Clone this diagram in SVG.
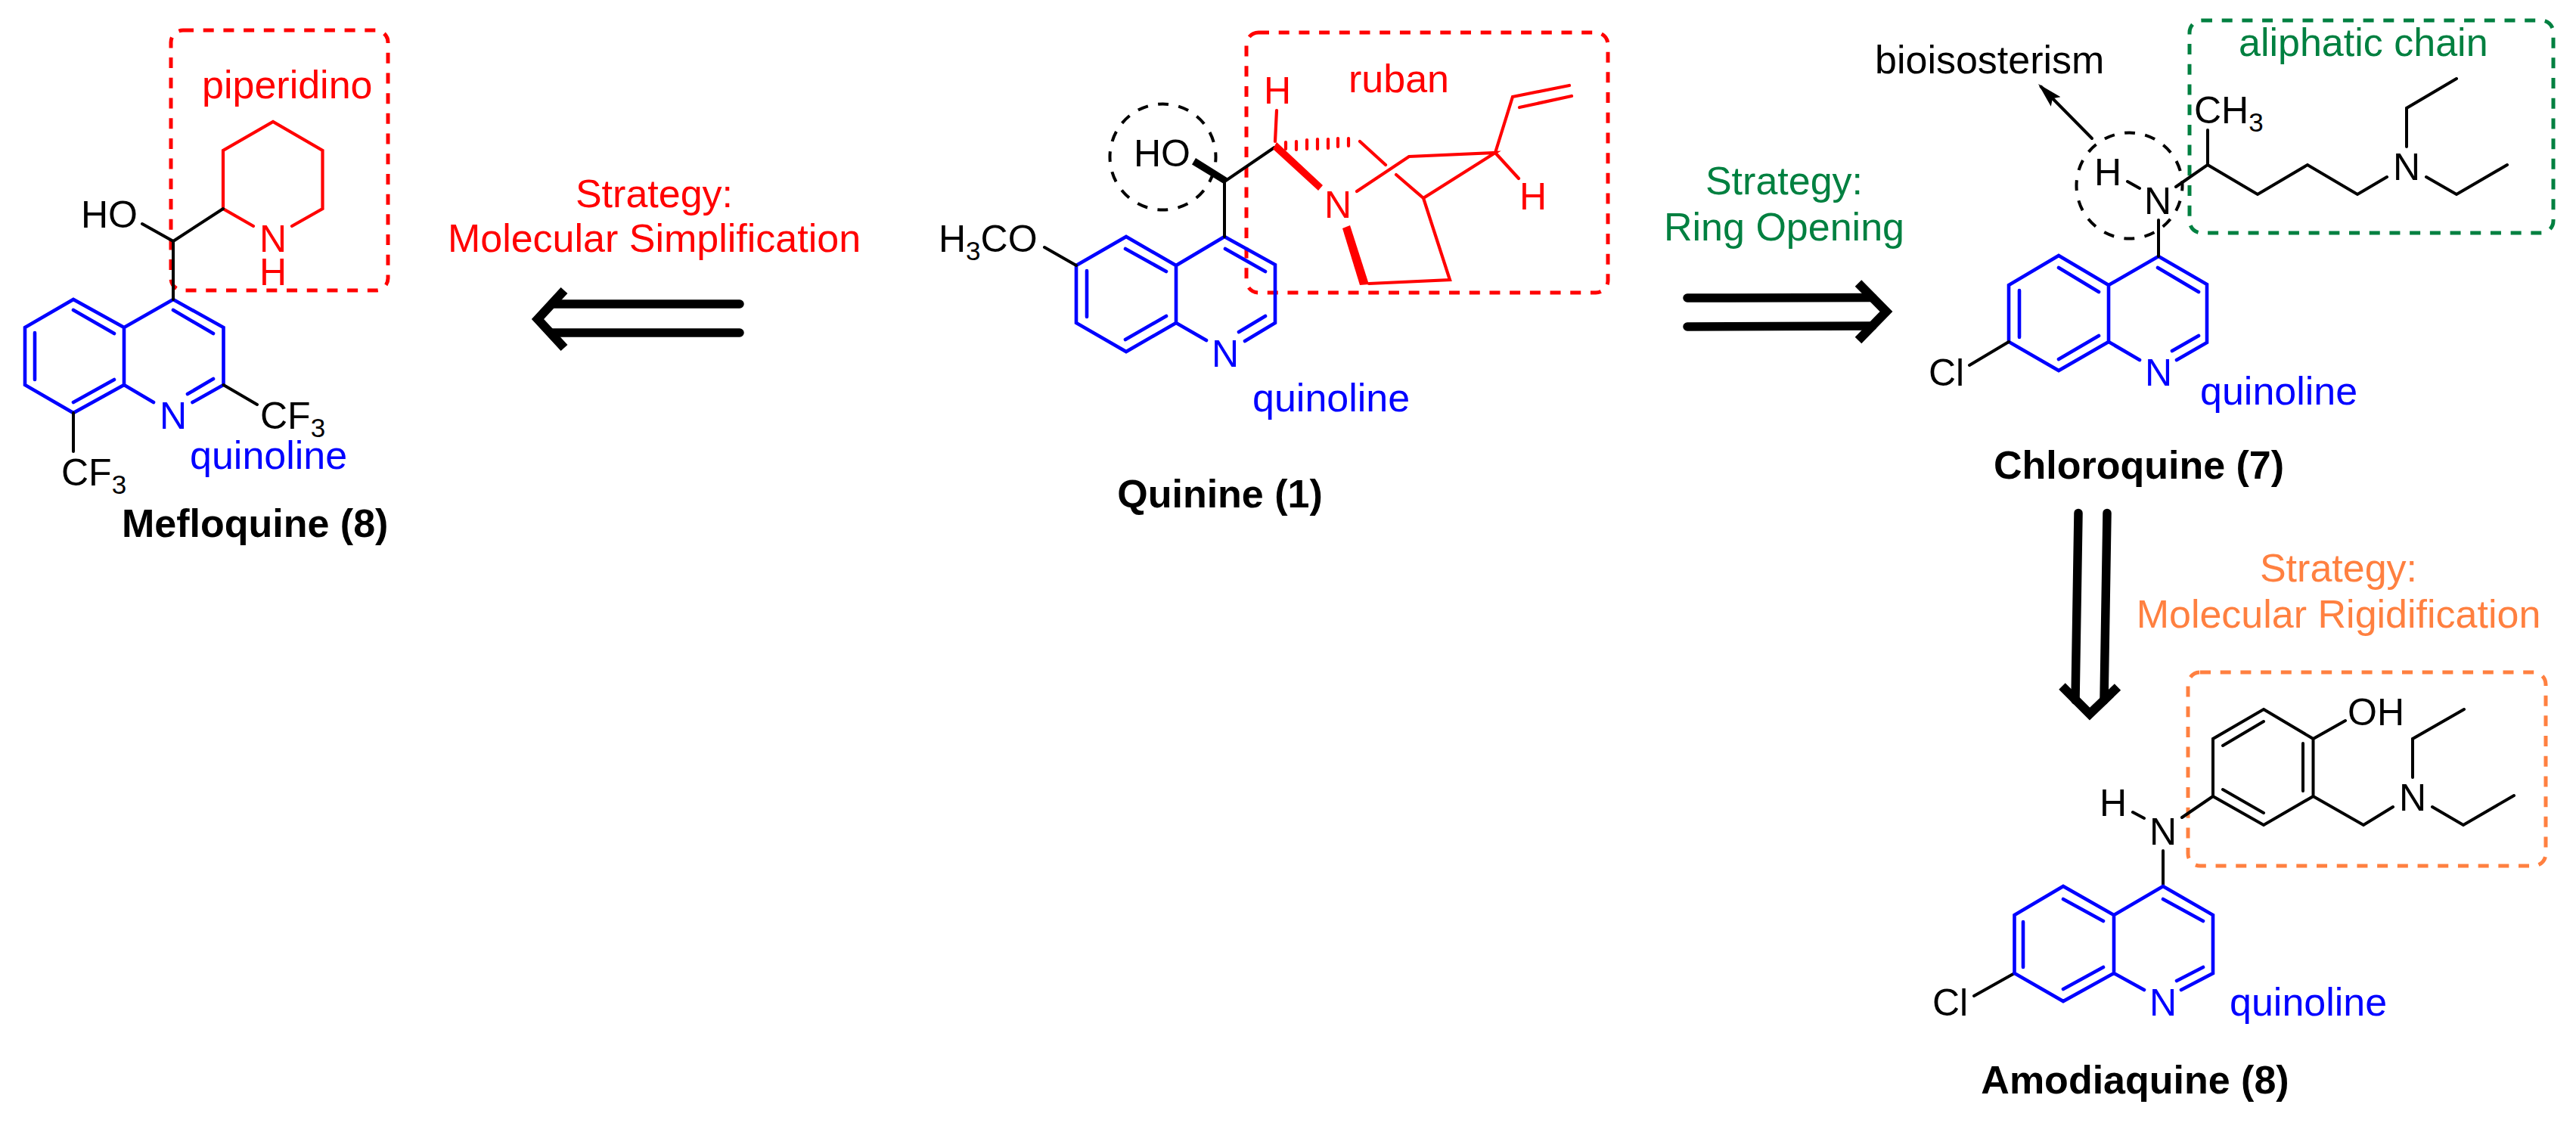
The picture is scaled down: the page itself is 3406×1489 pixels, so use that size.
<svg xmlns="http://www.w3.org/2000/svg" width="3406" height="1489" viewBox="0 0 3406 1489">
<style>
text{font-family:"Liberation Sans",Arial,sans-serif}
.a{font-size:50px}.l{font-size:52px}.t{font-size:52px;font-weight:bold}.m{text-anchor:middle}
.s{font-size:35px}
.k,.b,.r{fill:none;stroke-linecap:round;stroke-linejoin:miter}
.k{stroke:#000;stroke-width:4}.b{stroke:#00f;stroke-width:4.600}.r{stroke:#f00;stroke-width:4.200}
.box{fill:none;stroke-width:5;stroke-dasharray:14 12.700}
.circ{fill:none;stroke:#000;stroke-width:4;stroke-dasharray:14 13.490;stroke-dashoffset:7}
.ar{fill:none;stroke:#000;stroke-width:11.500;stroke-linecap:round}
.ah{fill:none;stroke:#000;stroke-width:12;stroke-linecap:butt;stroke-miterlimit:10}
.fb{fill:#00f}.fr{fill:#f00}.fk{fill:#000}.fg{fill:#008040}.fo{fill:#ff8040}
</style>
<defs>
<marker id="tip" markerUnits="userSpaceOnUse" markerWidth="34" markerHeight="20" refX="28" refY="10" orient="auto"><path d="M0 1L33 10L0 19L6 10Z" fill="#000"/></marker>
</defs>

<g id="mefloquine">
<rect class="box" stroke="#f00" x="226" y="40" width="287" height="344" rx="16"/>
<text class="l fr" x="267" y="130">piperidino</text>
<path class="b" d="M229 396L295.500 433V509L254.500 532M203 532L164 509V433L229 396M164 433L97 396L33 433V509L97 546L164 509M97 410L151 441M229 410L282 441M46 440V502M97 532L151 502M248 521L282 501"/>
<path class="r" d="M335 299L295 276V199L361 161L426.500 199V276L386 299"/>
<path class="k" d="M229 396V319L188 296M229 319L295 276M295.500 509L340 535M97 546V597"/>
<text class="a fk" x="107" y="301">HO</text>
<text class="a fr m" x="361" y="333">N</text>
<text class="a fr m" x="361" y="377">H</text>
<text class="a fb m" x="229" y="567">N</text>
<text class="a fk" x="344" y="567">CF<tspan class="s" dy="11">3</tspan></text>
<text class="a fk" x="81" y="642">CF<tspan class="s" dy="11">3</tspan></text>
<text class="l fb" x="251" y="620">quinoline</text>
<text class="t fk" x="161" y="710">Mefloquine (8)</text>
</g>

<g id="quinine">
<rect class="box" stroke="#f00" x="1648" y="43" width="478" height="344" rx="16"/>
<circle class="circ" cx="1537.500" cy="207.500" r="70"/>
<text class="l fr" x="1783" y="122">ruban</text>
<path class="b" d="M1423 351L1489 313L1555 351L1619 313L1686 350V427L1646 451M1595 450L1555 427V351M1555 427L1489 465L1423 427V351M1488 329L1542 359M1620 329L1673 359M1437 358V419M1488 449L1542 418M1638 439L1673 418"/>
<path class="k" d="M1381 327L1423 351M1619 313V240L1685 195"/>
<polygon class="fk" points="1581,209 1576,217.500 1618,243 1624,236"/>
<path class="r" d="M1688 146L1686 187M1798 187L1832 218M1846 231L1882 262M1794 253L1863 207L1977 202L1882 262L1917 370L1810 375M1977 202L2000 128L2075 113M2009 142L2078 127M1977 202L2008 236"/>
<path class="r" d="M1700 188V197M1714 187V198M1728 185V197M1742 184V197M1756 184V196M1769 183V194M1783 183V193"/>
<polygon class="fr" points="1683,197 1688,188 1749,245 1743,252"/>
<polygon class="fr" points="1775,302 1785,298 1810,376 1798,377"/>
<text class="a fk" x="1499" y="220">HO</text>
<text class="a fk" x="1241" y="333">H<tspan class="s" dy="11">3</tspan><tspan dy="-11">CO</tspan></text>
<text class="a fr m" x="1689" y="137">H</text>
<text class="a fr m" x="1769" y="288">N</text>
<text class="a fr m" x="2027" y="277">H</text>
<text class="a fb m" x="1620" y="485">N</text>
<text class="l fb" x="1656" y="544">quinoline</text>
<text class="t fk m" x="1613" y="671">Quinine (1)</text>
</g>

<g id="chloroquine">
<rect class="box" stroke="#008040" x="2895" y="27" width="481" height="281" rx="16"/>
<circle class="circ" cx="2815.500" cy="245.500" r="70"/>
<text class="l fg" x="2960" y="74">aliphatic chain</text>
<text class="l fk" x="2479" y="97">bioisosterism</text>
<path class="b" d="M2854 339L2918 376V453L2878 476M2829 476L2788 452V377L2854 339M2788 377L2722 338L2656 377V452L2722 490L2788 452M2722 354L2775 386M2853 354L2907 386M2670 384V446M2722 475L2775 444M2872 464L2907 444"/>
<path class="k" d="M2813 240L2829 249M2854 291V339M2877 247L2919 218V172M2919 218L2985 257L3051 218L3117 257L3156 234M3182 194V143L3248 104M3208 234L3248 257L3315 218M2656 452L2604 483"/>
<text class="a fk m" x="2787" y="245">H</text>
<text class="a fk m" x="2853" y="283">N</text>
<text class="a fk" x="2901" y="163">CH<tspan class="s" dy="11">3</tspan></text>
<text class="a fk m" x="3182" y="238">N</text>
<text class="a fk" x="2550" y="510">Cl</text>
<text class="a fb m" x="2854" y="510">N</text>
<text class="l fb" x="2909" y="535">quinoline</text>
<text class="t fk m" x="2828" y="633">Chloroquine (7)</text>
</g>

<g id="amodiaquine">
<rect class="box" stroke="#ff8040" x="2893" y="889" width="473" height="256" rx="16"/>
<path class="k" d="M2993 938L3058.500 977V1053L2993 1091L2926 1053V977ZM2939 986L2993 954M3045 983V1046M2939 1044L2993 1075M3058.500 977L3101 953M3058.500 1053L3125 1091L3164 1067M3190 1028V977L3258 938M3216 1067L3257 1091L3324 1052M2820 1074L2835 1082M2885 1081L2926 1053M2860 1125V1172M2663.500 1287L2610 1317"/>
<path class="b" d="M2860 1172L2926 1210V1287L2884 1309M2835 1309L2795 1287V1210L2860 1172M2795 1210L2728 1172L2663.500 1210V1287L2728 1324L2795 1287M2728 1189L2781 1218M2860 1189L2913 1218M2675 1219V1279M2728 1308L2781 1279M2878 1297L2913 1279"/>
<text class="a fk" x="3104" y="959">OH</text>
<text class="a fk m" x="3190" y="1072">N</text>
<text class="a fk m" x="2860" y="1117">N</text>
<text class="a fk m" x="2794" y="1079">H</text>
<text class="a fk" x="2555" y="1343">Cl</text>
<text class="a fb m" x="2860" y="1343">N</text>
<text class="l fb" x="2948" y="1343">quinoline</text>
<text class="t fk m" x="2823" y="1446">Amodiaquine (8)</text>
</g>

<g id="connectors">
<path class="ar" d="M978 402H730M978 440H730"/>
<path class="ah" d="M746 384L711 422L746 460"/>
<path class="ar" d="M2231 394L2476 393.500M2231 432L2476 431"/>
<path class="ah" d="M2457 374.500L2494 412L2457 450"/>
<path class="ar" d="M2748 678.500L2744 926M2786 678.500L2782 926"/>
<path class="ah" d="M2726.500 907.500L2763 944L2800 908.500"/>
<path class="k" d="M2766 183L2698.500 114.500" marker-end="url(#tip)"/>
</g>

<g id="labels">
<text class="l fr m" x="865" y="274">Strategy:</text>
<text class="l fr m" x="865" y="333">Molecular Simplification</text>
<text class="l fg m" x="2359" y="257">Strategy:</text>
<text class="l fg m" x="2359" y="318">Ring Opening</text>
<text class="l fo m" x="3092" y="769">Strategy:</text>
<text class="l fo m" x="3092" y="830">Molecular Rigidification</text>
</g>
</svg>
